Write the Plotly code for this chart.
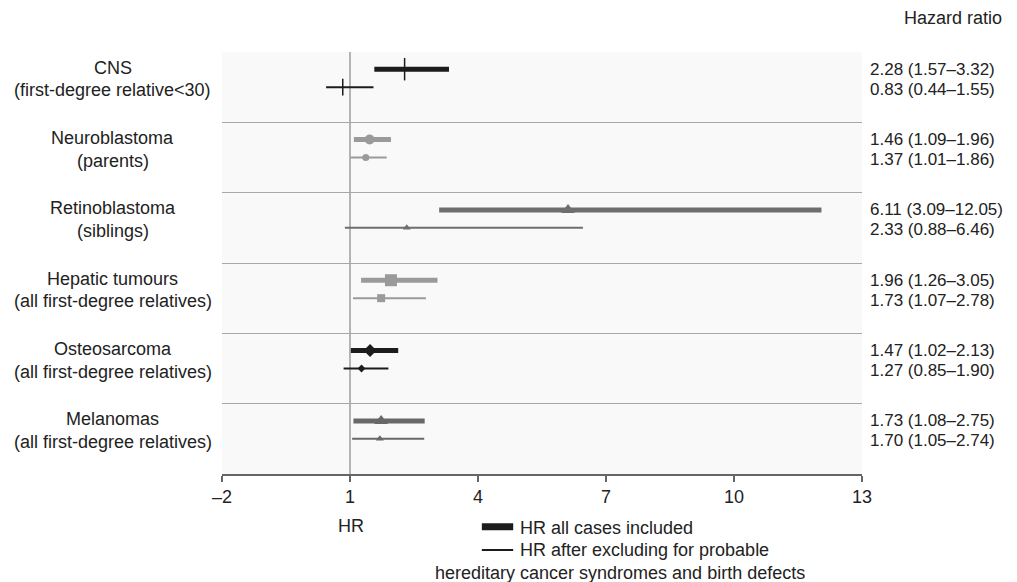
import plotly.graph_objects as go

# ---- data ----
names = ["CNS", "Neuroblastoma", "Retinoblastoma", "Hepatic tumours", "Osteosarcoma", "Melanomas"]
subtitles = ["(first-degree relative<30)", "(parents)", "(siblings)",
             "(all first-degree relatives)", "(all first-degree relatives)", "(all first-degree relatives)"]
hr_all = [2.28, 1.46, 6.11, 1.96, 1.47, 1.73]
lo_all = [1.57, 1.09, 3.09, 1.26, 1.02, 1.08]
hi_all = [3.32, 1.96, 12.05, 3.05, 2.13, 2.75]
hr_ex = [0.83, 1.37, 2.33, 1.73, 1.27, 1.70]
lo_ex = [0.44, 1.01, 0.88, 1.07, 0.85, 1.05]
hi_ex = [1.55, 1.86, 6.46, 2.78, 1.90, 2.74]
x_ticks = [-2, 1, 4, 7, 10, 13]
x_tick_labels = ["\u20132", "1", "4", "7", "10", "13"]

# ---- styles ----
colors = ["#1c1c1c", "#9a9a9a", "#6e6e6e", "#9a9a9a", "#1c1c1c", "#686868"]
symbols = ["line-ns", "circle", "triangle-up", "square", "diamond", "triangle-up"]
size_all = [16, 10, 12, 12, 10, 12]
size_ex = [12, 7, 7, 8, 6, 7]
FONT = "Liberation Sans, Arial, sans-serif"
TXT = "#222222"
FS = 18
FS_R = 17

fig = go.Figure()
for i in range(len(names)):
    y_a = i + 0.245
    y_e = i + 0.50
    c = colors[i]
    fig.add_trace(go.Scatter(x=[lo_all[i], hi_all[i]], y=[y_a, y_a], mode="lines",
                             line=dict(color=c, width=5), showlegend=False, hoverinfo="skip"))
    fig.add_trace(go.Scatter(x=[lo_ex[i], hi_ex[i]], y=[y_e, y_e], mode="lines",
                             line=dict(color=c, width=2), showlegend=False, hoverinfo="skip"))
    for xv, yv, sz in ((hr_all[i], y_a, size_all[i]), (hr_ex[i], y_e, size_ex[i])):
        mk = dict(symbol=symbols[i], size=sz, color=c)
        if symbols[i] == "line-ns":
            mk["line"] = dict(color=c, width=1.5)
        fig.add_trace(go.Scatter(x=[xv], y=[yv], mode="markers", marker=mk,
                                 showlegend=False))
    # left labels
    fig.add_annotation(x=-0.171, xref="paper", y=i + 0.225, yref="y", text=names[i],
                       showarrow=False, xanchor="center", yanchor="middle",
                       font=dict(size=FS, color=TXT, family=FONT))
    fig.add_annotation(x=-0.171, xref="paper", y=i + 0.545, yref="y", text=subtitles[i],
                       showarrow=False, xanchor="center", yanchor="middle",
                       font=dict(size=FS, color=TXT, family=FONT))
    # right labels
    fig.add_annotation(x=1.009, xref="paper", y=y_a, yref="y",
                       text=f"{hr_all[i]:.2f} ({lo_all[i]:.2f}\u2013{hi_all[i]:.2f})",
                       showarrow=False, xanchor="left", yanchor="middle",
                       font=dict(size=FS_R, color=TXT, family=FONT))
    fig.add_annotation(x=1.009, xref="paper", y=y_e + 0.03, yref="y",
                       text=f"{hr_ex[i]:.2f} ({lo_ex[i]:.2f}\u2013{hi_ex[i]:.2f})",
                       showarrow=False, xanchor="left", yanchor="middle",
                       font=dict(size=FS_R, color=TXT, family=FONT))

# reference line at HR = 1
fig.add_shape(type="line", xref="x", yref="y", x0=1, x1=1, y0=0, y1=len(names),
              line=dict(color="#9c9c9c", width=1.5), layer="below")

# header
fig.add_annotation(x=1.142, xref="paper", y=1.081, yref="paper", text="Hazard ratio",
                   showarrow=False, xanchor="center", yanchor="middle",
                   font=dict(size=FS, color=TXT, family=FONT))
# axis title "HR"
fig.add_annotation(x=0.2016, xref="paper", y=-0.123, yref="paper", text="HR",
                   showarrow=False, xanchor="center", yanchor="middle",
                   font=dict(size=FS, color=TXT, family=FONT))
# legend
fig.add_shape(type="line", xref="paper", yref="paper", x0=0.406, x1=0.455, y0=-0.125, y1=-0.125,
              line=dict(color="#1c1c1c", width=7))
fig.add_shape(type="line", xref="paper", yref="paper", x0=0.406, x1=0.455, y0=-0.180, y1=-0.180,
              line=dict(color="#1c1c1c", width=2))
fig.add_annotation(x=0.463, xref="paper", y=-0.128, yref="paper", text="HR all cases included",
                   showarrow=False, xanchor="left", yanchor="middle",
                   font=dict(size=FS, color=TXT, family=FONT))
fig.add_annotation(x=0.463, xref="paper", y=-0.180, yref="paper",
                   text="HR after excluding for probable",
                   showarrow=False, xanchor="left", yanchor="middle",
                   font=dict(size=FS, color=TXT, family=FONT))
fig.add_annotation(x=0.622, xref="paper", y=-0.235, yref="paper",
                   text="hereditary cancer syndromes and birth defects",
                   showarrow=False, xanchor="center", yanchor="middle",
                   font=dict(size=FS, color=TXT, family=FONT))

fig.update_layout(
    width=1009, height=574,
    margin=dict(l=214, r=155, t=44, b=108),
    paper_bgcolor="white", plot_bgcolor="#f9f9f9",
    font=dict(family=FONT, size=FS, color=TXT),
    xaxis=dict(range=[-2, 13], tickvals=x_ticks, ticktext=x_tick_labels,
               showgrid=False, zeroline=False, showline=True, linecolor="#666666", linewidth=1.5,
               ticks="outside", ticklen=6, tickcolor="#666666", tickwidth=1.5,
               tickfont=dict(size=FS, color=TXT, family=FONT)),
    yaxis=dict(range=[len(names), 0], tickvals=list(range(len(names) + 1)),
               showgrid=True, gridcolor="#a8a8a8", gridwidth=1, zeroline=False,
               showticklabels=False, showline=False, ticks=""),
)

fig.write_html("out.html")
